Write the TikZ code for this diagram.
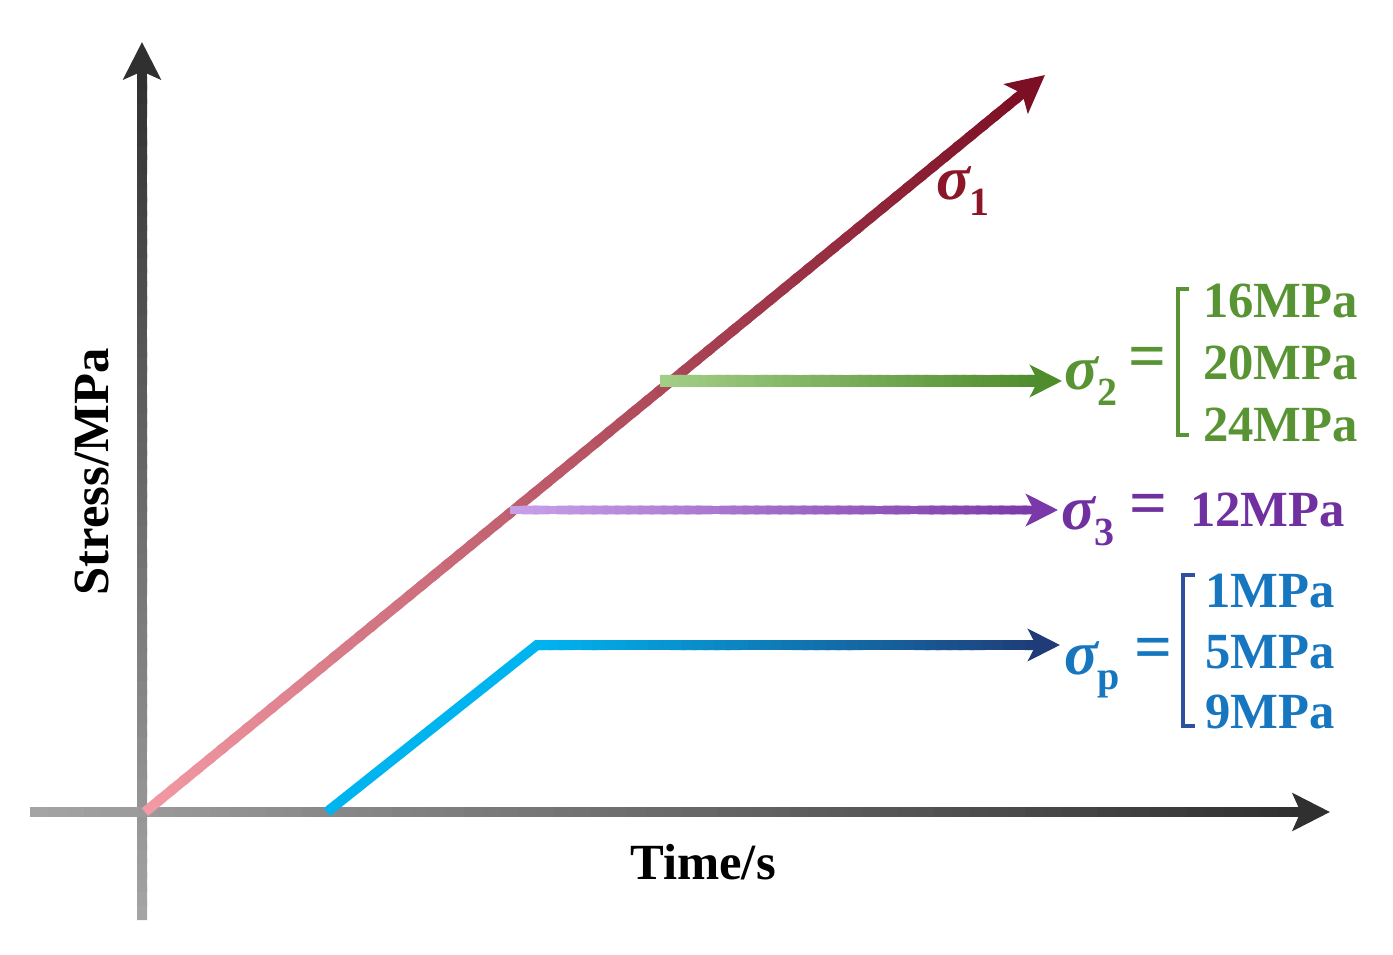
\documentclass[tikz,border=0pt]{standalone}
\usepackage{fontspec}
\setmainfont{Liberation Serif}
\usetikzlibrary{arrows.meta,calc}
\definecolor{axL}{HTML}{A4A4A4}
\definecolor{axD}{HTML}{303030}
\definecolor{rA}{HTML}{F29AA4}
\definecolor{rB}{HTML}{7C0F24}
\definecolor{rT}{HTML}{8A1628}
\definecolor{gA}{HTML}{A2CE86}
\definecolor{gB}{HTML}{4F8C2C}
\definecolor{gT}{HTML}{589434}
\definecolor{pA}{HTML}{C8A0E8}
\definecolor{pB}{HTML}{7B38A8}
\definecolor{pT}{HTML}{7030A0}
\definecolor{bA}{HTML}{00B4F0}
\definecolor{bB}{HTML}{1F3C78}
\definecolor{bT}{HTML}{1676C0}
\definecolor{bK}{HTML}{2F4F9F}
\newcommand{\gradseg}[6]{%
  \foreach \i in {1,...,#6}{%
    \pgfmathsetmacro{\ta}{(\i-1)/#6}%
    \pgfmathsetmacro{\tb}{min(1,(\i+0.4)/#6)}%
    \pgfmathtruncatemacro{\pc}{100*(\i-0.5)/#6}%
    \draw[line width=#5, line cap=butt, color=#4!\pc!#3] ($(#1)!\ta!(#2)$) -- ($(#1)!\tb!(#2)$);
  }}
\newcommand{\sg}[1]{{\fontsize{47}{48}\selectfont\bfseries\itshape σ}\kern-0.5pt\raisebox{-0.3em}{\fontsize{30}{30}\selectfont\bfseries #1}}
\tikzset{
  lab/.style={font=\fontsize{38}{40}\selectfont\bfseries, inner sep=0pt},
  eq/.style={font=\fontsize{50}{50}\selectfont\bfseries, inner sep=0pt},
  head/.style={-{Stealth[length=#1, width=#1, inset=6pt]}}
}
\begin{document}
\begin{tikzpicture}[x=0.75pt,y=-0.75pt]
\useasboundingbox (0,0) rectangle (1393,955);
% axes
\coordinate (yb) at (142,920);
\coordinate (yt) at (142,42);
\coordinate (xl) at (30,812);
\coordinate (xr) at (1330,812);
\coordinate (ybh) at (142,76);
\coordinate (xrh) at (1296,812);
\gradseg{yb}{ybh}{axL}{axD}{7.5pt}{60}
\draw[axD, line width=7.5pt, head=28pt] (142,80) -- (yt);
\gradseg{xl}{xrh}{axL}{axD}{7.5pt}{70}
\draw[axD, line width=7.5pt, head=28pt] (1290,812) -- (xr);
% sigma 1
\coordinate (o) at (145,812);
\coordinate (t1) at (1045,75);
\coordinate (t1h) at ($(t1)!26pt!(o)$);
\coordinate (t1s) at ($(t1)!30pt!(o)$);
\gradseg{o}{t1h}{rA}{rB}{7.5pt}{70}
\draw[rB, line width=7.5pt, head=28pt] (t1s) -- (t1);
% sigma 2
\coordinate (s2a) at (660,381);
\coordinate (s2b) at (1062,381);
\coordinate (s2h) at (1038,381);
\gradseg{s2a}{s2h}{gA}{gB}{9pt}{40}
\draw[gB, line width=9pt, head=24pt] (1034,381) -- (s2b);
% sigma 3
\coordinate (s3a) at (510,510);
\coordinate (s3b) at (1058,510);
\coordinate (s3h) at (1034,510);
\gradseg{s3a}{s3h}{pA}{pB}{6.5pt}{45}
\draw[pB, line width=6.5pt, head=24pt] (1030,510) -- (s3b);
% sigma p
\coordinate (pa) at (327,812);
\coordinate (pk) at (537,645);
\coordinate (pb) at (1060,645);
\coordinate (ph) at (1036,645);
\draw[bA, line width=7.5pt, line join=miter, line cap=butt] (pa) -- (pk) -- (545,645);
\gradseg{pk}{ph}{bA}{bB}{7.5pt}{45}
\draw[bB, line width=7.5pt, head=24pt] (1032,645) -- (pb);
% labels
\node[lab, text=rT, anchor=base west] (l1) at (936,200) {\sg{1}};
\node[lab, text=gT, anchor=base west] (l2) at (1064,390) {\sg{2}};
\node[eq, text=gT] (e2) at (1147,363) {=};
\draw[gT, line width=3pt] (1189,289) -- (1178,289) -- (1178,435) -- (1189,435);
\node[lab, text=gT, anchor=base west] (v16) at (1203,318) {16MPa};
\node[lab, text=gT, anchor=base west] (v20) at (1203,380) {20MPa};
\node[lab, text=gT, anchor=base west] (v24) at (1203,442) {24MPa};
\node[lab, text=pT, anchor=base west] (l3) at (1061,530) {\sg{3}};
\node[eq, text=pT] (e3) at (1148,510) {=};
\node[lab, text=pT, anchor=base west] (v12) at (1190,527) {12MPa};
\node[lab, text=bT, anchor=base west] (lp) at (1064,674) {\sg{p}};
\node[eq, text=bT] (ep) at (1153,654) {=};
\draw[bK, line width=3pt] (1195,575) -- (1183,575) -- (1183,726) -- (1195,726);
\node[lab, text=bT, anchor=base west] (v1) at (1205,607) {1MPa};
\node[lab, text=bT, anchor=base west] (v5) at (1205,668) {5MPa};
\node[lab, text=bT, anchor=base west] (v9) at (1205,728) {9MPa};
\node[lab] (tx) at (703,862) {Time/s};
\node[lab, rotate=90] (ty) at (92,472) {Stress/MPa};
\end{tikzpicture}
\end{document}
